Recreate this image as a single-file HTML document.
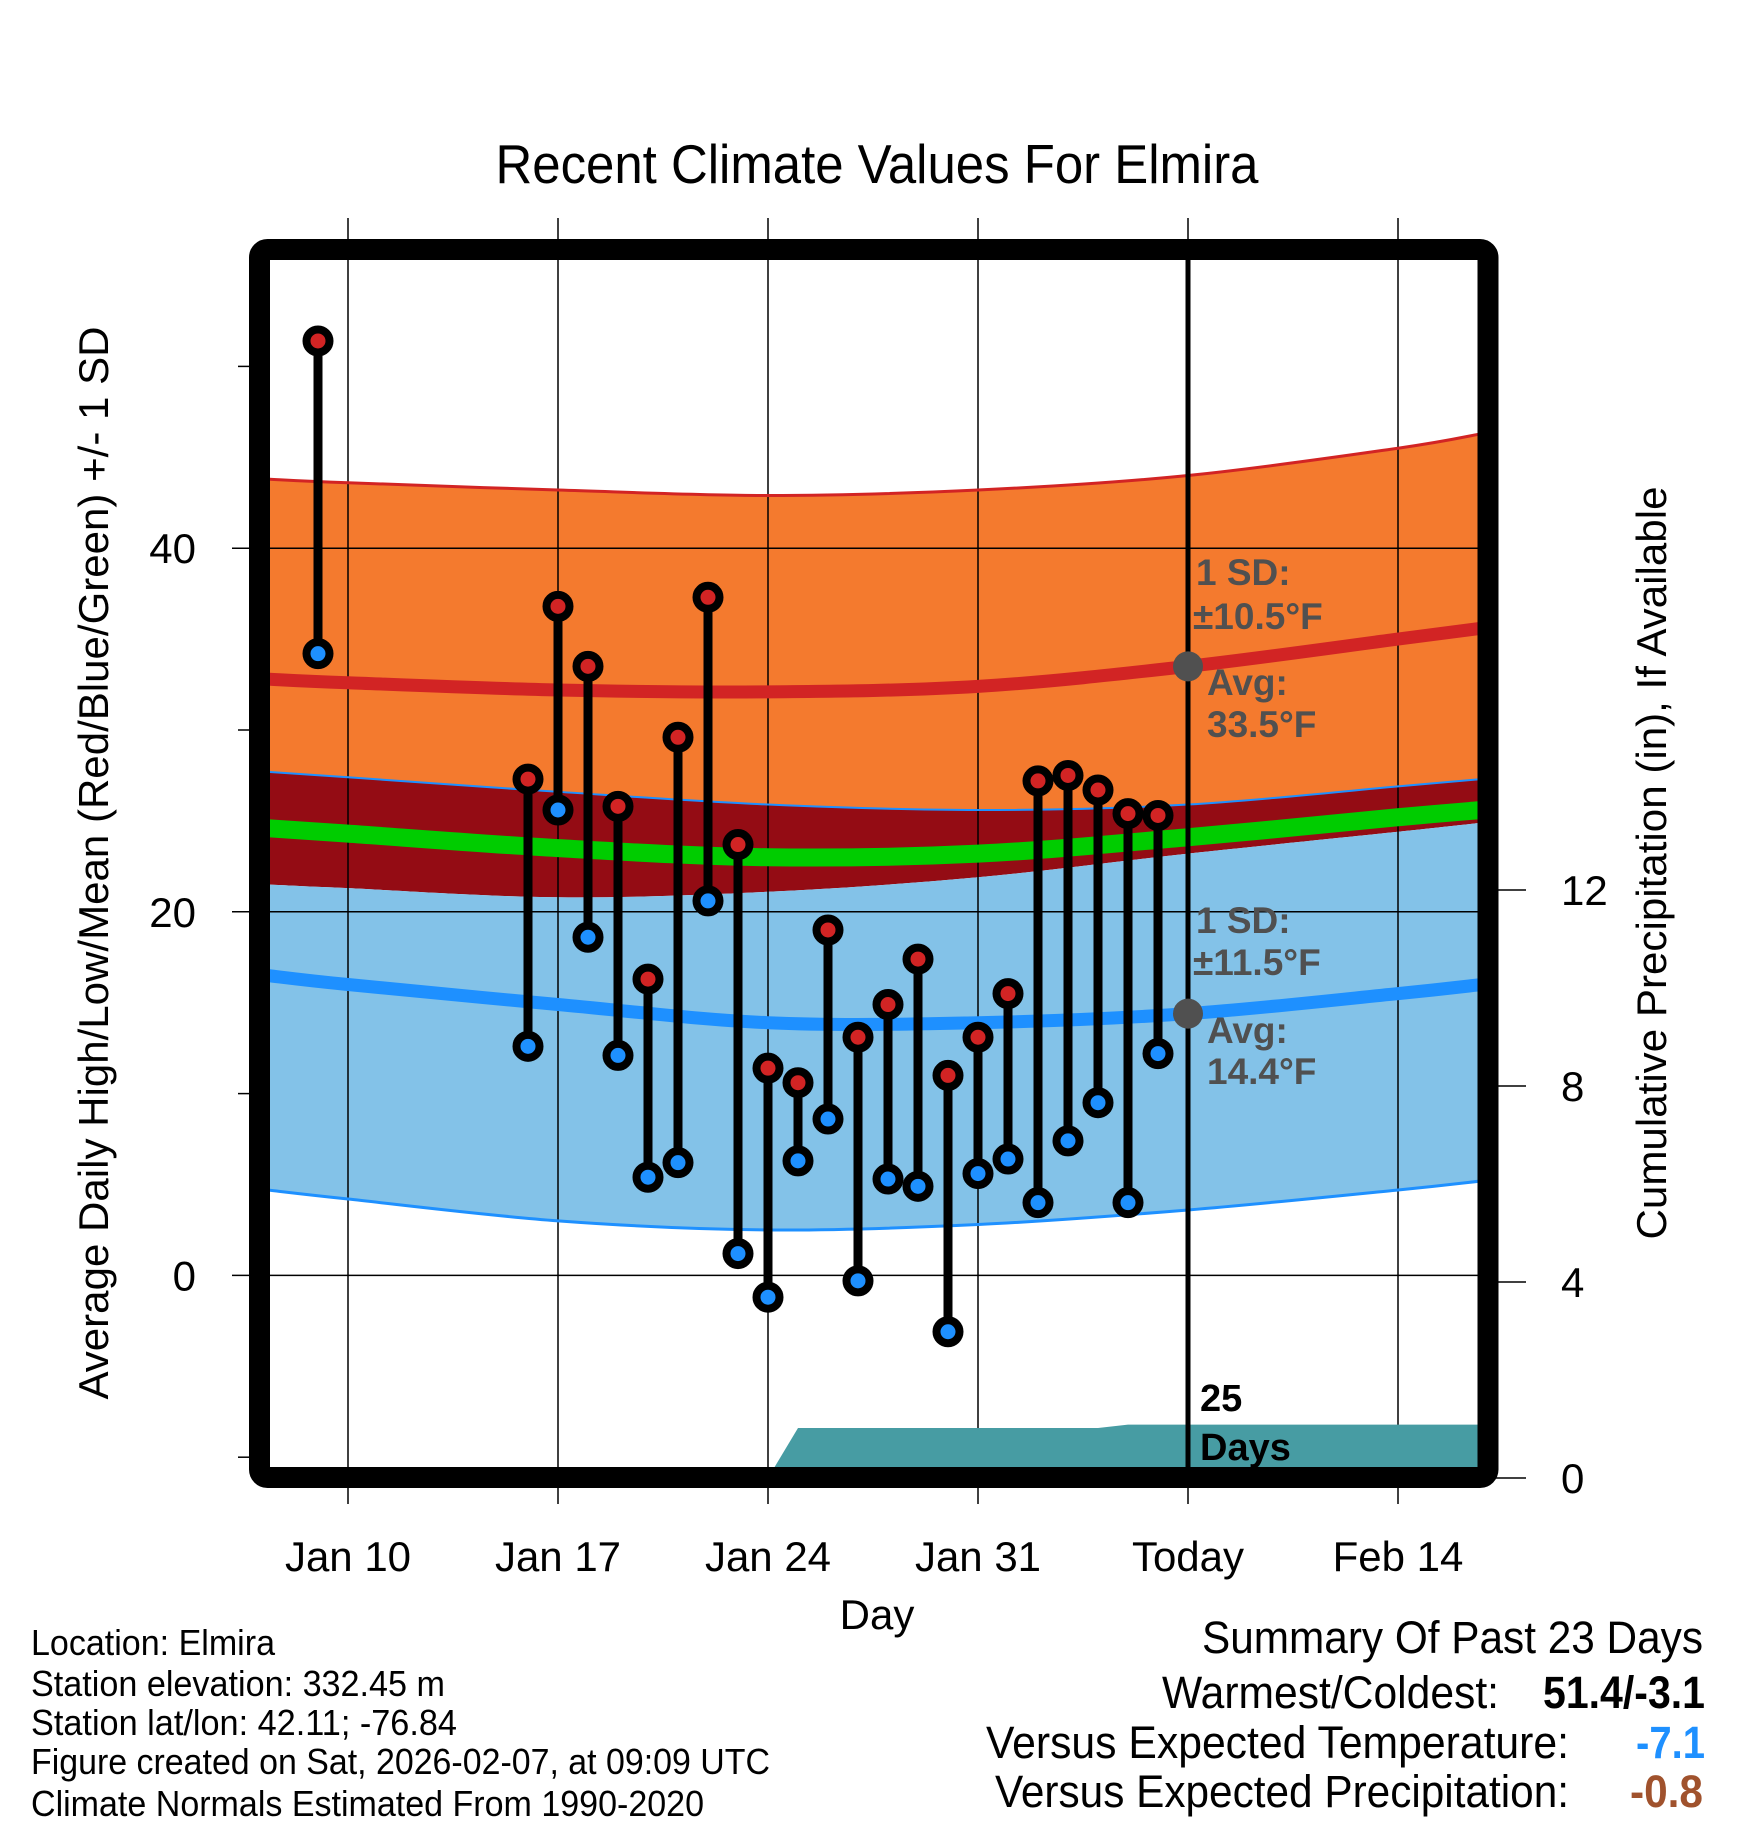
<!DOCTYPE html>
<html><head><meta charset="utf-8"><style>
html,body{margin:0;padding:0;background:#fff}
svg{display:block}
text{font-family:"Liberation Sans",Arial,sans-serif}
</style></head><body>
<svg id="chart" xmlns="http://www.w3.org/2000/svg" width="1748" height="1828" viewBox="0 0 1748 1828">
<defs><clipPath id="pc"><rect x="270" y="260" width="1208" height="1208"/></clipPath></defs>
<g id="fills" clip-path="url(#pc)"></g>
<g id="grid"></g>
<g id="lines" clip-path="url(#pc)"></g>
<g id="marks"></g>
<g id="annot"></g>
<rect x="259.5" y="249.5" width="1228.5" height="1228" rx="8" fill="none" stroke="#000" stroke-width="21"/>
<text x="877" y="183" font-size="55" text-anchor="middle" textLength="763" lengthAdjust="spacingAndGlyphs">Recent Climate Values For Elmira</text>
<text x="877" y="1629" font-size="42" text-anchor="middle">Day</text>
<text transform="translate(108,863) rotate(-90)" font-size="42" text-anchor="middle" textLength="1073" lengthAdjust="spacingAndGlyphs">Average Daily High/Low/Mean (Red/Blue/Green) +/- 1 SD</text>
<text transform="translate(1666,863) rotate(-90)" font-size="42" text-anchor="middle" textLength="753" lengthAdjust="spacingAndGlyphs">Cumulative Precipitation (in), If Available</text>
<g font-size="36">
<text x="31" y="1655" textLength="244" lengthAdjust="spacingAndGlyphs">Location: Elmira</text>
<text x="31" y="1696" textLength="414" lengthAdjust="spacingAndGlyphs">Station elevation: 332.45 m</text>
<text x="31" y="1735" textLength="426" lengthAdjust="spacingAndGlyphs">Station lat/lon: 42.11; -76.84</text>
<text x="31" y="1774" textLength="739" lengthAdjust="spacingAndGlyphs">Figure created on Sat, 2026-02-07, at 09:09 UTC</text>
<text x="31" y="1816" textLength="673" lengthAdjust="spacingAndGlyphs">Climate Normals Estimated From 1990-2020</text>
</g>
<g font-size="45">
<text x="1202" y="1653" textLength="501" lengthAdjust="spacingAndGlyphs">Summary Of Past 23 Days</text>
<text x="1162" y="1708" textLength="337" lengthAdjust="spacingAndGlyphs">Warmest/Coldest:</text>
<text x="1543" y="1708" font-weight="bold" textLength="162" lengthAdjust="spacingAndGlyphs">51.4/-3.1</text>
<text x="986" y="1758" textLength="583" lengthAdjust="spacingAndGlyphs">Versus Expected Temperature:</text>
<text x="1636" y="1758" font-weight="bold" fill="#1e90ff" textLength="69" lengthAdjust="spacingAndGlyphs">-7.1</text>
<text x="995" y="1807" textLength="574" lengthAdjust="spacingAndGlyphs">Versus Expected Precipitation:</text>
<text x="1630" y="1807" font-weight="bold" fill="#a0522d" textLength="73" lengthAdjust="spacingAndGlyphs">-0.8</text>
</g>
</svg>
<script>
// ---- data ----
const obsDays = [9,16,17,18,19,20,21,22,23,24,25,26,27,28,29,30,31,32,33,34,35,36,37];
const highs = [51.4,27.3,36.8,33.5,25.8,16.3,29.6,37.3,23.7,11.4,10.6,19.0,13.1,14.9,17.4,11.0,13.1,15.5,27.2,27.5,26.7,25.4,25.3];
const lows = [34.2,12.6,25.6,18.6,12.1,5.4,6.2,20.6,1.2,-1.2,6.3,8.6,-0.3,5.3,4.9,-3.1,5.6,6.4,4.0,7.4,9.5,4.0,12.2];
const normDays = [7.3,10,17,24,31,38,45,47.8];
const highUpper = [43.8,43.6,43.2,42.9,43.2,44.0,45.5,46.3];
const highMean = [32.8,32.6,32.2,32.1,32.4,33.5,35.0,35.6];
const highLower = [27.7,27.4,26.6,25.9,25.6,25.9,26.9,27.3];
const lowUpper = [21.5,21.3,20.8,21.1,21.9,23.2,24.4,24.9];
const lowMean = [16.5,16.0,14.9,13.9,13.9,14.4,15.5,16.0];
const lowLower = [4.7,4.2,3.0,2.5,2.8,3.6,4.7,5.2];
const meanTemp = [24.6,24.3,23.5,23.0,23.2,24.1,25.2,25.6];
const precipDays = [24,25,26,27,28,29,30,31,32,33,34,35,36,37,47.8];
const precipCum = [0,1.02,1.02,1.02,1.02,1.02,1.02,1.02,1.02,1.02,1.02,1.02,1.09,1.09,1.09];
const xTickDays = [10,17,24,31,38,45];
const xTickLabels = ["Jan 10","Jan 17","Jan 24","Jan 31","Today","Feb 14"];
const yTicks = [-10,0,10,20,30,40,50];
const yTickLabels = ["","0","","20","","40",""];
const pTicks = [0,4,8,12];
const todayDay = 38;

// ---- axes ----
const X = d => 348 + (d - 10) * 30.0;
const Y = t => 1275.4 - 18.18 * t;
const P = p => 1478 - 49 * p;
const NS = "http://www.w3.org/2000/svg";
function mk(tag, attrs, parent) {
  const e = document.createElementNS(NS, tag);
  for (const k in attrs) e.setAttribute(k, attrs[k]);
  parent.appendChild(e);
  return e;
}
const fills = document.getElementById('fills');
const grid = document.getElementById('grid');
const lines = document.getElementById('lines');
const marks = document.getElementById('marks');
const annot = document.getElementById('annot');

function smooth(xs, ys) {
  const pts = xs.map((d, i) => [X(d), Y(ys[i])]);
  let s = `M${pts[0][0]},${pts[0][1]}`;
  for (let i = 0; i < pts.length - 1; i++) {
    const p0 = pts[Math.max(0, i - 1)], p1 = pts[i], p2 = pts[i + 1], p3 = pts[Math.min(pts.length - 1, i + 2)];
    const c1 = [p1[0] + (p2[0] - p0[0]) / 6, p1[1] + (p2[1] - p0[1]) / 6];
    const c2 = [p2[0] - (p3[0] - p1[0]) / 6, p2[1] - (p3[1] - p1[1]) / 6];
    s += ` C${c1[0]},${c1[1]} ${c2[0]},${c2[1]} ${p2[0]},${p2[1]}`;
  }
  return s;
}
function band(upper, lower) {
  const rd = normDays.slice().reverse(), rl = lower.slice().reverse();
  return smooth(normDays, upper) + ' L' + smooth(rd, rl).slice(1) + ' Z';
}

let e;
e = mk('path', {d: band(highUpper, highLower), fill: '#f47a2e'}, fills);


e = mk('path', {d: band(highLower, lowUpper), fill: '#940c14'}, fills);


e = mk('path', {d: band(lowUpper, lowLower), fill: '#83c2e8'}, fills);



yTicks.forEach((t, i) => {
  const major = yTickLabels[i] !== "";
  const g = mk('line', {x1: major ? 232 : 238, x2: major ? 1478 : 250, y1: Y(t), y2: Y(t), stroke: '#000', 'stroke-width': 1.5}, grid);
  
  
  if (major) {
    const tx = mk('text', {x: 196, y: Y(t) + 15, 'font-size': 42, 'text-anchor': 'end'}, grid);
    tx.textContent = yTickLabels[i];
    
    
  }
});
xTickDays.forEach((d, i) => {
  const g = mk('line', {x1: X(d), x2: X(d), y1: 218, y2: 1504, stroke: '#000', 'stroke-width': 1.5}, grid);
  
  
  const tx = mk('text', {x: X(d), y: 1571, 'font-size': 42, 'text-anchor': 'middle'}, grid);
  tx.textContent = xTickLabels[i];
  
  
});
pTicks.forEach(p => {
  const g = mk('line', {x1: 1488, x2: 1526, y1: P(p), y2: P(p), stroke: '#000', 'stroke-width': 1.5}, grid);
  
  
  const tx = mk('text', {x: 1561, y: P(p) + 15, 'font-size': 42}, grid);
  tx.textContent = String(p);
  
  
});

e = mk('path', {d: smooth(normDays, highUpper), fill: 'none', stroke: '#d22424', 'stroke-width': 3}, lines);


e = mk('path', {d: smooth(normDays, highLower), fill: 'none', stroke: '#1e90ff', 'stroke-width': 2}, lines);


e = mk('path', {d: smooth(normDays, lowLower), fill: 'none', stroke: '#1e90ff', 'stroke-width': 3}, lines);


e = mk('path', {d: smooth(normDays, meanTemp), fill: 'none', stroke: '#00cc00', 'stroke-width': 18}, lines);


e = mk('path', {d: smooth(normDays, highMean), fill: 'none', stroke: '#d22424', 'stroke-width': 13}, lines);


e = mk('path', {d: smooth(normDays, lowMean), fill: 'none', stroke: '#1e90ff', 'stroke-width': 13}, lines);



let pd = `M${X(precipDays[0])},${P(0)}`;
precipDays.forEach((d, i) => { pd += ` L${X(d)},${P(precipCum[i])}`; });
pd += ` L${X(precipDays[precipDays.length - 1])},${P(0)} Z`;
e = mk('path', {d: pd, fill: '#479ca3'}, lines);



e = mk('line', {x1: X(todayDay), x2: X(todayDay), y1: 260, y2: 1468, stroke: '#000', 'stroke-width': 5}, marks);



obsDays.forEach((d, i) => {
  const x = X(d);
  const s = mk('line', {x1: x, x2: x, y1: Y(highs[i]), y2: Y(lows[i]), stroke: '#000', 'stroke-width': 9}, marks);
  
  
  const h = mk('circle', {cx: x, cy: Y(highs[i]), r: 11.5, fill: '#d22424', stroke: '#000', 'stroke-width': 8}, marks);
  
  
  const l = mk('circle', {cx: x, cy: Y(lows[i]), r: 11.5, fill: '#1e90ff', stroke: '#000', 'stroke-width': 8}, marks);
  
  
});

const hAvg = highMean[5], lAvg = lowMean[5];
function note(txt, x, y, name, color, size) {
  const t = mk('text', {x: x, y: y, 'font-size': size || 37, 'font-weight': 'bold', fill: color || '#505050'}, annot);
  t.textContent = txt;
  
  
}
e = mk('circle', {cx: X(todayDay), cy: Y(hAvg), r: 15, fill: '#505050'}, annot);


e = mk('circle', {cx: X(todayDay), cy: Y(lAvg), r: 15, fill: '#505050'}, annot);


note('1 SD:', 1196, 585, 'high-sd-label');
note('\u00b110.5\u00b0F', 1193, 629, 'high-sd-value');
note('Avg:', 1207, 695, 'high-avg-label');
note(hAvg.toFixed(1) + '\u00b0F', 1207, 737, 'high-avg-value');
note('1 SD:', 1196, 933, 'low-sd-label');
note('\u00b111.5\u00b0F', 1193, 975, 'low-sd-value');
note('Avg:', 1207, 1043, 'low-avg-label');
note(lAvg.toFixed(1) + '\u00b0F', 1207, 1084, 'low-avg-value');
note('25', 1200, 1411, 'days-count', '#000', 38);
note('Days', 1200, 1460, 'days-label', '#000', 38);
</script>
</body></html>
